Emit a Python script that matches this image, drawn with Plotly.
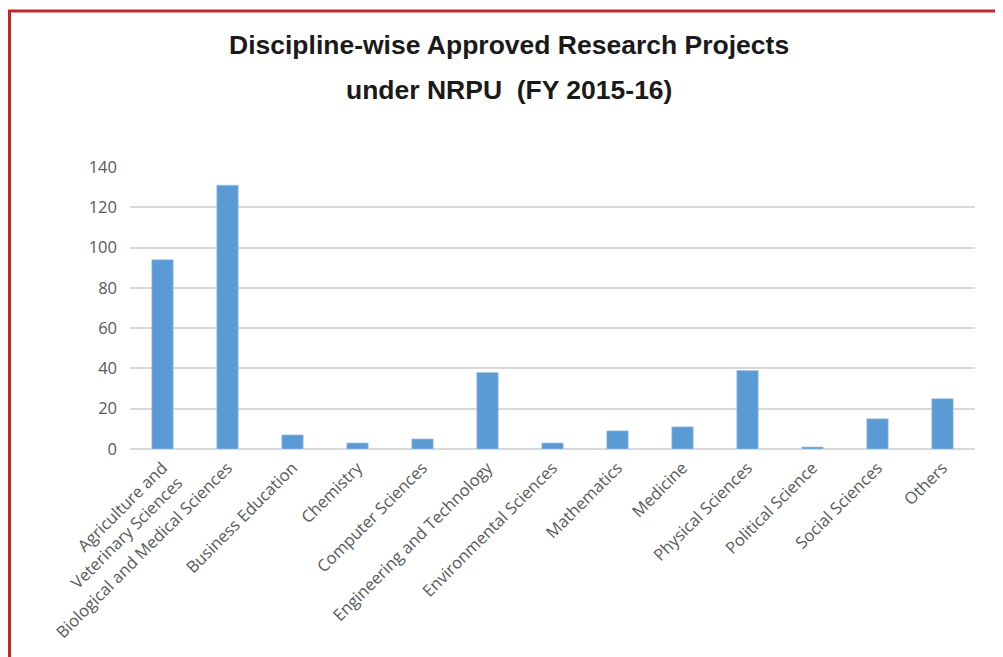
import plotly.graph_objects as go

# data
disciplines = [
    "Agriculture and<br>Veterinary Sciences",
    "Biological and Medical Sciences",
    "Business Education",
    "Chemistry",
    "Computer Sciences",
    "Engineering and Technology",
    "Environmental Sciences",
    "Mathematics",
    "Medicine",
    "Physical Sciences",
    "Political Science",
    "Social Sciences",
    "Others",
]
projects = [94, 131, 7, 3, 5, 38, 3, 9, 11, 39, 1, 15, 25]
y_ticks = [0, 20, 40, 60, 80, 100, 120, 140]

# page body has an 8px margin, so the figure is shifted by that much
OFF = 8
W, H = 1003 - OFF, 657 - OFF
ML, MR, MT, MB = 130 - OFF, 28, 167 - OFF, 208
pw, ph = W - ML - MR, H - MT - MB


def px(x):
    # page pixel -> paper fraction
    return (x - OFF - ML) / pw


def py(y):
    return (H - MB - (y - OFF)) / ph


fig = go.Figure()
fig.add_trace(go.Bar(
    x=disciplines, y=projects,
    marker=dict(color="#5B9BD5", line=dict(color="#A9C8EA", width=0.6)),
))

fig.update_layout(
    width=W, height=H,
    margin=dict(l=ML, r=MR, t=MT, b=MB),
    plot_bgcolor="white", paper_bgcolor="white",
    bargap=0.67,
    showlegend=False,
    font=dict(family="Open Sans, Noto Sans, sans-serif", color="#595959"),
)
fig.update_xaxes(
    tickangle=-45, tickfont=dict(size=16.5, color="#595959"),
    showgrid=False, showline=False, ticks="", ticklabelstandoff=5,
)
fig.update_yaxes(
    range=[0, 140], tickvals=y_ticks, tickfont=dict(size=16.5, color="#595959"),
    showgrid=True, gridcolor="#D9D9D9", gridwidth=1.5,
    zeroline=True, zerolinecolor="#D9D9D9", zerolinewidth=1.5,
    showline=False, ticks="", ticklabelstandoff=12,
)

# two-line bold title
for text, ypix in [("Discipline-wise Approved Research Projects", 45),
                   ("under NRPU  (FY 2015-16)", 90)]:
    fig.add_annotation(
        text="<b>%s</b>" % text, xref="paper", yref="paper",
        x=px(509), y=py(ypix), xanchor="center", yanchor="middle",
        showarrow=False,
        font=dict(family="Liberation Sans, Arial, sans-serif", size=26.5, color="#1a1a1a"),
    )

# red frame: left and top edges only are visible in the reference
fig.add_shape(
    type="rect", xref="paper", yref="paper",
    x0=px(9.5), x1=px(1020), y0=py(11), y1=py(700),
    line=dict(color="#C0272D", width=3), fillcolor="rgba(0,0,0,0)",
)

fig.write_html("out.html")
